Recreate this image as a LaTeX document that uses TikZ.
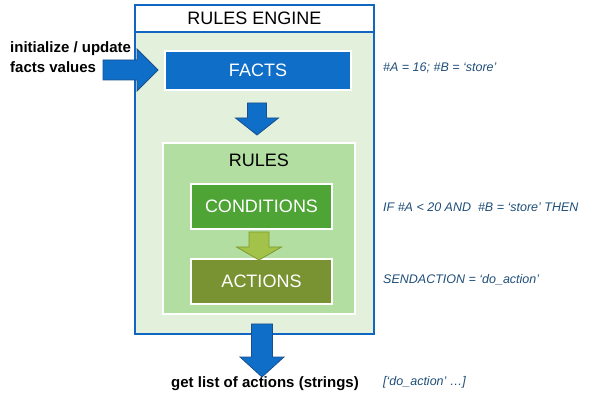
\documentclass[tikz,border=0pt]{standalone}
\usepackage{fontspec}
\setmainfont{Liberation Sans}
\usetikzlibrary{calc,shadows}
\definecolor{engborder}{HTML}{1066C0}
\definecolor{engfill}{HTML}{E3F1DC}
\definecolor{factblue}{HTML}{0E6EC8}
\definecolor{arrowborder}{HTML}{1A4F8C}
\definecolor{rulesfill}{HTML}{B2DEA2}
\definecolor{condfill}{HTML}{4EA435}
\definecolor{actfill}{HTML}{7A9332}
\definecolor{garrow}{HTML}{A3C24A}
\definecolor{garrowborder}{HTML}{7F9A2E}
\definecolor{notecol}{HTML}{1F4E79}
\tikzset{
  boxlabel/.style={font=\fontsize{18}{20}\selectfont},
  innerbox/.style={rectangle, draw=white, line width=2.5pt, inner sep=0pt,
     drop shadow={shadow xshift=1pt, shadow yshift=-1.2pt, opacity=0.35, fill=black!60},
     boxlabel, text=white},
  note/.style={anchor=west, inner sep=0pt, text=notecol, font=\fontsize{12.5}{14}\selectfont\itshape},
  boldtxt/.style={inner sep=0pt, font=\fontsize{15}{20}\selectfont\bfseries},
  bluearrow/.style={fill=factblue, draw=arrowborder, line width=0.8pt, line join=miter},
  greenarrow/.style={fill=garrow, draw=garrowborder, line width=0.8pt, line join=miter}
}
% down block arrow: #1 style, #2 top, #3 tip, #4 body half width, #5 head half width, #6 head length
\newcommand{\blockdown}[6]{%
  \path[#1] let \p1=(#2), \p2=(#3) in
    (\x2-#4,\y1) -- (\x2+#4,\y1) -- (\x2+#4,\y2+#6) -- (\x2+#5,\y2+#6) -- (\x2,\y2)
    -- (\x2-#5,\y2+#6) -- (\x2-#4,\y2+#6) -- cycle;}
\begin{document}
\begin{tikzpicture}[x=1pt,y=-1pt]
\useasboundingbox (0,0) rectangle (590,401);
% engine container
\node[rectangle, draw=engborder, line width=2pt, fill=engfill, minimum width=239pt,
      minimum height=329pt, inner sep=0pt] (engine) at (254.5,169.5) {};
\node[rectangle, draw=engborder, line width=2pt, fill=white, minimum width=239pt,
      minimum height=27pt, inner sep=0pt, boxlabel, text=black] (header) at (254.5,18.5) {RULES ENGINE};
% facts
\node[innerbox, fill=factblue, minimum width=186pt, minimum height=39pt] (facts) at (258,70.5) {FACTS};
% rules
\node[innerbox, fill=rulesfill, minimum width=192pt, minimum height=171pt] (rules) at (259,228.5) {};
\node[boxlabel, text=black, inner sep=0pt] (ruleslabel) at (259,160) {RULES};
\node[innerbox, fill=condfill, minimum width=141pt, minimum height=45pt] (cond) at (261.5,206.5) {CONDITIONS};
\node[innerbox, fill=actfill, minimum width=141pt, minimum height=45pt] (act) at (261.5,281.5) {ACTIONS};
% coordinates for block arrows
\coordinate (a1top) at (257,103);
\coordinate (a1tip) at (257,135);
\coordinate (a2top) at (259,232);
\coordinate (a2tip) at (259,260);
\coordinate (a3top) at (262,324);
\coordinate (a3tip) at (262,377);
\blockdown{bluearrow}{a1top}{a1tip}{9.5}{21.5}{17}
\blockdown{greenarrow}{a2top}{a2tip}{10}{22.5}{13}
\blockdown{bluearrow}{a3top}{a3tip}{10.5}{22}{20}
% input arrow
\coordinate (intail) at (103,70);
\coordinate (intip) at (158,70);
\path[bluearrow] let \p1=(intail), \p2=(intip) in
  (\x1,\y1-10) -- (\x2-21,\y1-10) -- (\x2-21,\y1-21) -- (\x2,\y2) -- (\x2-21,\y1+21)
  -- (\x2-21,\y1+10) -- (\x1,\y1+10) -- cycle;
% texts
\node[boldtxt, anchor=west, align=left] (inlabel) at (10,57.5) {initialize / update\\facts values};
\node[boldtxt] (outlabel) at (265,384) {get list of actions (strings)};
\node[note] (n1) at (383,68) {\#A = 16; \#B = ‘store’};
\node[note] (n2) at (383,207) {IF \#A < 20 AND \ \#B = ‘store’ THEN};
\node[note] (n3) at (383,280) {SENDACTION = ‘do\_action’};
\node[note] (n4) at (383,382) {[‘do\_action’ …]};
\end{tikzpicture}
\end{document}
